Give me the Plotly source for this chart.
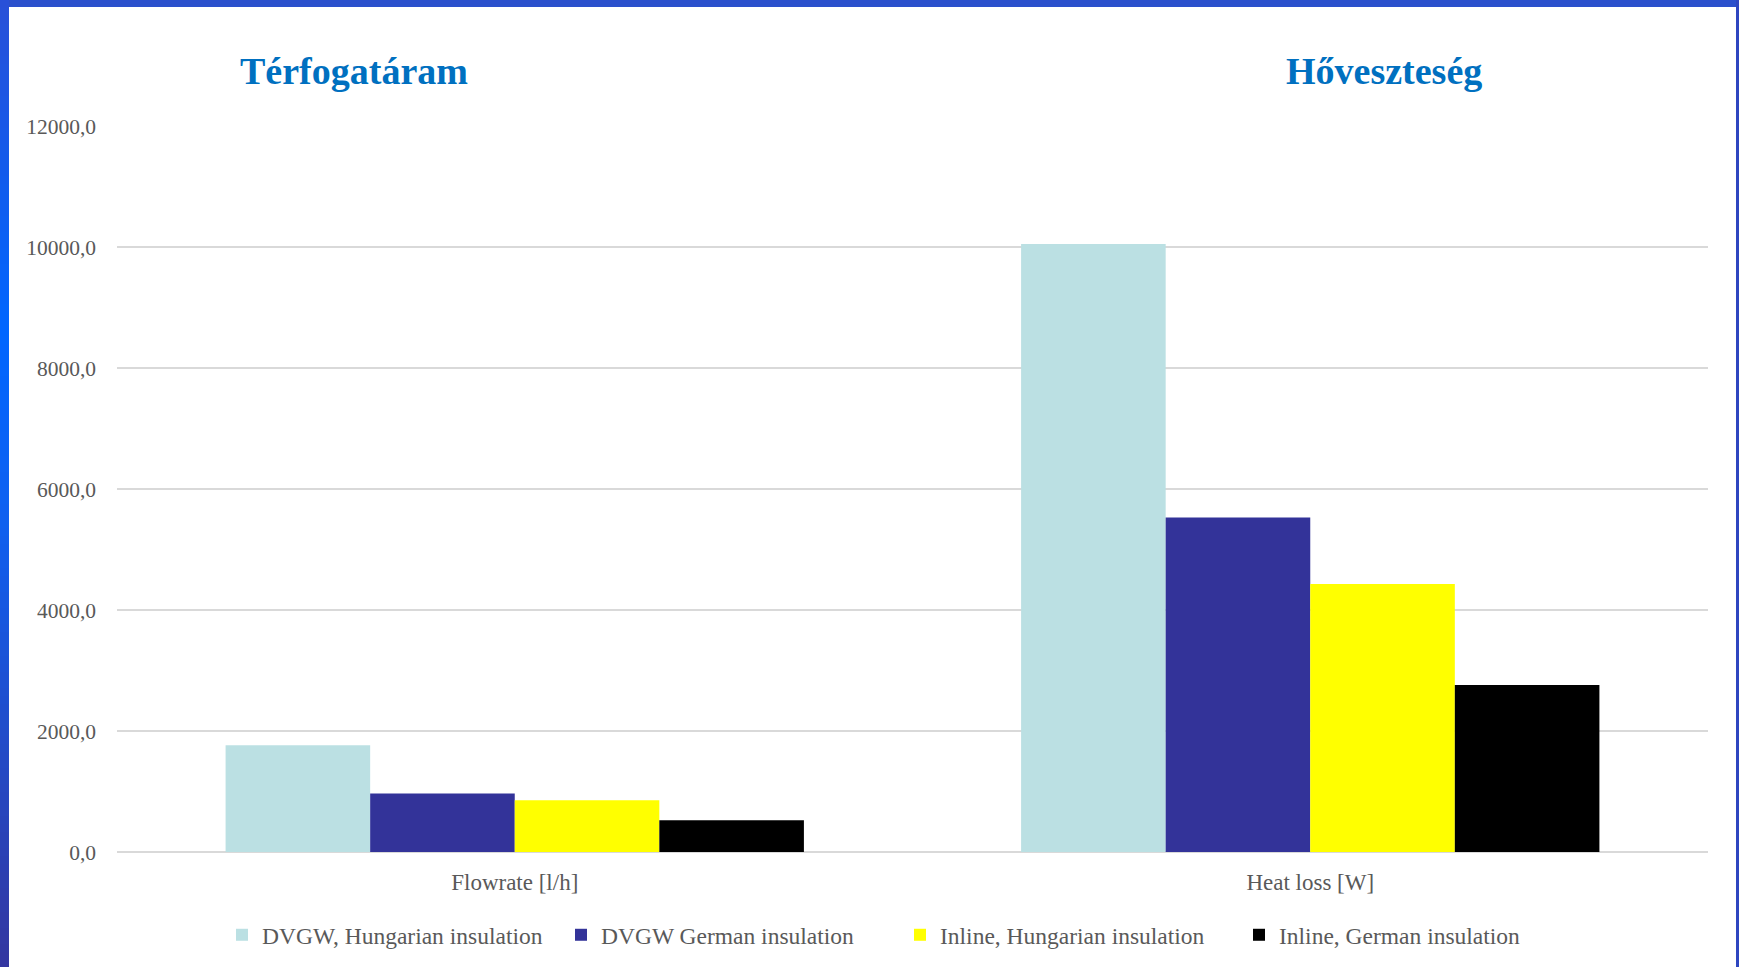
import plotly.graph_objects as go

# --- data -------------------------------------------------------------
categories = ["Flowrate [l/h]", "Heat loss [W]"]
series_names = [
    "DVGW, Hungarian insulation",
    "DVGW German insulation",
    "Inline, Hungarian insulation",
    "Inline, German insulation",
]
dvgw_hungarian = [1765, 10050]
dvgw_german = [968, 5530]
inline_hungarian = [857, 4430]
inline_german = [525, 2760]
y_ticks = [0, 2000, 4000, 6000, 8000, 10000, 12000]
panel_titles = ["Térfogatáram", "Hőveszteség"]

# --- styling ----------------------------------------------------------
W, H = 1739, 967
ML, MR, MT, MB = 117, 31, 126, 115
PW, PH = W - ML - MR, H - MT - MB
colors = ["#BBE0E3", "#333399", "#FFFF00", "#000000"]
serif = "Liberation Serif, Times New Roman, serif"
grey = "#595959"


def px_x(x):
    """page pixel -> paper x"""
    return (x - ML) / PW


def px_y(y):
    """page pixel (from top) -> paper y"""
    return (H - MB - y) / PH


fig = go.Figure()
for name, vals, col in zip(
    series_names,
    [dvgw_hungarian, dvgw_german, inline_hungarian, inline_german],
    colors,
):
    fig.add_trace(
        go.Bar(
            name=name,
            x=categories,
            y=vals,
            marker=dict(color=col, line=dict(width=0)),
        )
    )

# panel headings
for title, cx in zip(panel_titles, [354, 1384]):
    fig.add_annotation(
        text=f"<b>{title}</b>",
        xref="paper", yref="paper",
        x=px_x(cx), y=px_y(71),
        xanchor="center", yanchor="middle",
        showarrow=False,
        font=dict(family=serif, size=38, color="#0070C0"),
    )

# slide frame: top bar, right edge, and shaded left edge
shapes = []
shapes.append(dict(type="rect", xref="paper", yref="paper",
                   x0=px_x(0), x1=px_x(W), y0=px_y(0), y1=px_y(7),
                   fillcolor="#2B50CC", line=dict(width=0), layer="above"))
shapes.append(dict(type="rect", xref="paper", yref="paper",
                   x0=px_x(1736), x1=px_x(W), y0=px_y(0), y1=px_y(H),
                   fillcolor="#2E46C0", line=dict(width=0), layer="above"))

stops = [(0, (40, 80, 216)), (330, (0, 102, 255)), (520, (16, 96, 240)),
         (967, (52, 54, 160))]


def lerp_color(y):
    for (y0, c0), (y1, c1) in zip(stops[:-1], stops[1:]):
        if y0 <= y <= y1:
            t = (y - y0) / (y1 - y0)
            return "rgb(%d,%d,%d)" % tuple(round(a + (b - a) * t) for a, b in zip(c0, c1))
    return "rgb(%d,%d,%d)" % stops[-1][1]


step = 8
for y in range(0, H, step):
    shapes.append(dict(type="rect", xref="paper", yref="paper",
                       x0=px_x(0), x1=px_x(9), y0=px_y(y), y1=px_y(min(y + step + 1, H)),
                       fillcolor=lerp_color(y + step / 2), line=dict(width=0), layer="above"))

fig.update_layout(
    width=W, height=H,
    margin=dict(l=ML, r=MR, t=MT, b=MB, pad=0, autoexpand=False),
    paper_bgcolor="white",
    plot_bgcolor="white",
    barmode="group",
    bargap=0.273,
    bargroupgap=0,
    separators=",.",
    font=dict(family=serif, size=21, color=grey),
    showlegend=True,
    legend=dict(
        orientation="h",
        x=px_x(222), y=px_y(935),
        xanchor="left", yanchor="middle",
        entrywidth=294, entrywidthmode="pixels",
        font=dict(family=serif, size=23.5, color=grey),
        itemclick=False,
    ),
    shapes=shapes,
)
fig.update_xaxes(
    showgrid=False,
    showline=False,
    ticks="",
    automargin=False,
    ticklabelstandoff=14,
    tickfont=dict(family=serif, size=23, color=grey),
)
fig.update_yaxes(
    range=[0, 12000],
    tickvals=y_ticks,
    tickformat=".1f",
    showgrid=True,
    gridcolor="#D9D9D9",
    gridwidth=1.5,
    zeroline=True,
    zerolinecolor="#D9D9D9",
    zerolinewidth=1.5,
    showline=False,
    ticks="",
    automargin=False,
    ticklabelstandoff=20,
    tickfont=dict(family=serif, size=21.5, color=grey),
)

fig.write_html("out.html")
